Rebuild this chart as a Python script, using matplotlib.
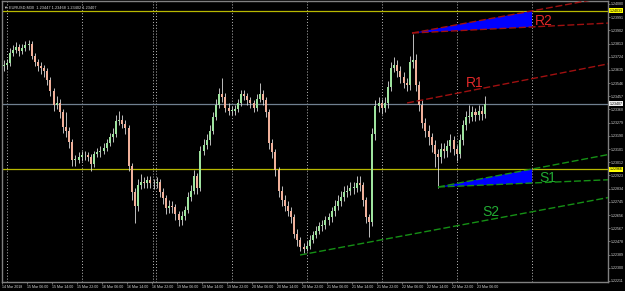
import numpy as np
import matplotlib.pyplot as plt
from matplotlib.transforms import blended_transform_factory

# EURUSD M30, 14 - 23 Mar 2018 (one candle per hour)
first_open = 1.2366
closes = [1.2367, 1.2368, 1.2375, 1.2377, 1.2379, 1.2376, 1.2378, 1.2380, 1.2381, 1.2373,
          1.2369, 1.2366, 1.2365, 1.2363, 1.2357, 1.2349, 1.2340, 1.2341, 1.2335, 1.2325,
          1.2322, 1.2315, 1.2303, 1.2303, 1.2305, 1.2306, 1.2306, 1.2305, 1.2300, 1.2307,
          1.2308, 1.2309, 1.2311, 1.2314, 1.2318, 1.2320, 1.2329, 1.2330, 1.2327, 1.2324,
          1.2299, 1.2281, 1.2272, 1.2286, 1.2288, 1.2287, 1.2289, 1.2287, 1.2287, 1.2288,
          1.2281, 1.2277, 1.2270, 1.2272, 1.2271, 1.2266, 1.2262, 1.2265, 1.2269, 1.2278,
          1.2282, 1.2292, 1.2284, 1.2309, 1.2313, 1.2316, 1.2322, 1.2332, 1.2340, 1.2347,
          1.2345, 1.2338, 1.2336, 1.2336, 1.2337, 1.2341, 1.2347, 1.2346, 1.2343, 1.2341,
          1.2338, 1.2344, 1.2347, 1.2343, 1.2335, 1.2314, 1.2308, 1.2296, 1.2282, 1.2276,
          1.2272, 1.2268, 1.2264, 1.2253, 1.2249, 1.2244, 1.2243, 1.2245, 1.2249, 1.2252,
          1.2255, 1.2258, 1.2259, 1.2262, 1.2264, 1.2268, 1.2272, 1.2275, 1.2278, 1.2281,
          1.2282, 1.2284, 1.2284, 1.2287, 1.2286, 1.2276, 1.2264, 1.2261, 1.2320, 1.2339,
          1.2341, 1.2338, 1.2341, 1.2352, 1.2365, 1.2367, 1.2363, 1.2359, 1.2355, 1.2353,
          1.2369, 1.2370, 1.2353, 1.2340, 1.2328, 1.2322, 1.2318, 1.2313, 1.2307, 1.2305,
          1.2310, 1.2309, 1.2312, 1.2316, 1.2310, 1.2307, 1.2316, 1.2326, 1.2332, 1.2332,
          1.2335, 1.2333, 1.2336, 1.2334, 1.23407]
highs = [1.2370, 1.2371, 1.2378, 1.2380, 1.2382, 1.2381, 1.2381, 1.2383, 1.2384, 1.2383,
         1.2375, 1.2371, 1.2369, 1.2367, 1.2365, 1.2359, 1.2351, 1.2346, 1.2344, 1.2337,
         1.2335, 1.2325, 1.2317, 1.2306, 1.2308, 1.2309, 1.2309, 1.2308, 1.2307, 1.2309,
         1.2311, 1.2312, 1.2314, 1.2317, 1.2321, 1.2324, 1.2333, 1.2336, 1.2333, 1.2330,
         1.2326, 1.2301, 1.2284, 1.2290, 1.2293, 1.2291, 1.2292, 1.2292, 1.2290, 1.2291,
         1.2290, 1.2284, 1.2279, 1.2276, 1.2275, 1.2273, 1.2268, 1.2268, 1.2272, 1.2281,
         1.2286, 1.2296, 1.2294, 1.2312, 1.2317, 1.2320, 1.2326, 1.2335, 1.2344, 1.2351,
         1.2358, 1.2348, 1.2341, 1.2339, 1.2340, 1.2344, 1.2350, 1.2350, 1.2348, 1.2345,
         1.2343, 1.2347, 1.2355, 1.2350, 1.2345, 1.2337, 1.2317, 1.2310, 1.2298, 1.2285,
         1.2279, 1.2275, 1.2271, 1.2266, 1.2256, 1.2251, 1.2247, 1.2248, 1.2252, 1.2255,
         1.2258, 1.2261, 1.2262, 1.2265, 1.2267, 1.2271, 1.2276, 1.2279, 1.2282, 1.2285,
         1.2286, 1.2288, 1.2288, 1.2292, 1.2292, 1.2288, 1.2278, 1.2266, 1.2324, 1.2343,
         1.2345, 1.2344, 1.2345, 1.2356, 1.2369, 1.2372, 1.2370, 1.2366, 1.2362, 1.2358,
         1.2373, 1.2388, 1.2374, 1.2356, 1.2343, 1.2331, 1.2326, 1.2321, 1.2316, 1.2310,
         1.2314, 1.2314, 1.2316, 1.2320, 1.2319, 1.2313, 1.2320, 1.2330, 1.2336, 1.2340,
         1.2339, 1.2338, 1.2340, 1.2339, 1.2346]
lows = [1.2363, 1.2364, 1.2366, 1.2373, 1.2375, 1.2373, 1.2374, 1.2376, 1.2377, 1.2371,
        1.2366, 1.2363, 1.2361, 1.2359, 1.2353, 1.2346, 1.2336, 1.2337, 1.2331, 1.2321,
        1.2318, 1.2311, 1.2299, 1.2299, 1.2301, 1.2302, 1.2303, 1.2302, 1.2295, 1.2298,
        1.2305, 1.2305, 1.2307, 1.2309, 1.2312, 1.2315, 1.2318, 1.2326, 1.2324, 1.2320,
        1.2295, 1.2276, 1.2260, 1.2268, 1.2283, 1.2284, 1.2284, 1.2284, 1.2283, 1.2284,
        1.2278, 1.2273, 1.2266, 1.2267, 1.2267, 1.2262, 1.2258, 1.2259, 1.2262, 1.2267,
        1.2275, 1.2280, 1.2280, 1.2282, 1.2306, 1.2310, 1.2313, 1.2320, 1.2330, 1.2338,
        1.2342, 1.2335, 1.2333, 1.2333, 1.2333, 1.2335, 1.2339, 1.2343, 1.2340, 1.2338,
        1.2335, 1.2336, 1.2342, 1.2340, 1.2332, 1.2310, 1.2304, 1.2292, 1.2278, 1.2272,
        1.2268, 1.2265, 1.2260, 1.2250, 1.2245, 1.2241, 1.2240, 1.2241, 1.2243, 1.2247,
        1.2250, 1.2253, 1.2255, 1.2256, 1.2259, 1.2261, 1.2265, 1.2269, 1.2272, 1.2275,
        1.2278, 1.2279, 1.2280, 1.2281, 1.2282, 1.2272, 1.2260, 1.2251, 1.2258, 1.2316,
        1.2335, 1.2334, 1.2335, 1.2338, 1.2349, 1.2362, 1.2359, 1.2355, 1.2351, 1.2349,
        1.2350, 1.2365, 1.2349, 1.2336, 1.2324, 1.2318, 1.2313, 1.2308, 1.2298, 1.2284,
        1.2301, 1.2304, 1.2305, 1.2308, 1.2306, 1.2302, 1.2304, 1.2313, 1.2323, 1.2328,
        1.2329, 1.2329, 1.2330, 1.2330, 1.2331]

time_labels = ['14 Mar 2018', '15 Mar 06:00', '15 Mar 14:00', '15 Mar 22:00', '16 Mar 06:00',
               '16 Mar 14:00', '16 Mar 22:00', '19 Mar 06:00', '19 Mar 14:00', '19 Mar 22:00',
               '20 Mar 06:00', '20 Mar 14:00', '20 Mar 22:00', '21 Mar 06:00', '21 Mar 14:00',
               '21 Mar 22:00', '22 Mar 06:00', '22 Mar 14:00', '22 Mar 22:00', '23 Mar 06:00']
price_ticks = [1.24080, 1.23991, 1.23902, 1.23813, 1.23724, 1.23635, 1.23546, 1.23457,
               1.23368, 1.23279, 1.23190, 1.23101, 1.23012, 1.22923, 1.22834, 1.22745,
               1.22656, 1.22567, 1.22478, 1.22389, 1.22300, 1.22211]
separators = [3.2, 51.2, 96.6, 98.6, 147.2, 195.2, 243.2, 291.2, 339.2]  # bar index

current_price = 1.23407
hlines_yellow = [1.24033, 1.22966]

# trend lines: (bar, price) anchors
r2_apex = (262.4, 1.23884)
r2_up = (339.2, 1.24033)
r2_low = (339.2, 1.23925)
r1_a = (259.2, 1.23412)
r1_b = (339.2, 1.23576)
s1_apex = (279.0, 1.22845)
s1_up = (339.2, 1.22966)
s1_low = (339.2, 1.22872)
s2_a = (190.7, 1.22386)
s2_b = (339.2, 1.22678)

FONT = ['Liberation Sans', 'DejaVu Sans']
XMAX = 387.8
fig = plt.figure(figsize=(6.25, 2.91), dpi=100, facecolor='black')
ax = fig.add_axes([2/625, 9/291, 606/625, 281/291])
ax.set_facecolor('black')
ax.set_xlim(0, XMAX)
ax.set_ylim(1.22204, 1.24100)

for s in separators:
    ax.axvline(s, color='#bdbdbd', lw=0.7, linestyle=(0, (1, 2)), zorder=1)

for p in hlines_yellow:
    ax.axhline(p, color='#b8b800', lw=0.9, zorder=2)
ax.axhline(current_price, color='#708090', lw=0.9, zorder=2)

n = len(closes)
x = np.arange(n) * 2 + 1
opens = np.array([first_open] + closes[:-1])
c = np.array(closes)
ax.vlines(x, lows, highs, color='#dcdcdc', lw=0.6, zorder=3)
bottom = np.minimum(opens, c)
height = np.maximum(np.abs(c - opens), 0.00003)
cols = ['#9ee39e' if cc >= oo else '#f0b09a' for oo, cc in zip(opens, c)]
ax.bar(x, height, bottom=bottom, width=1.3, color=cols, linewidth=0, zorder=4)


def ray(a, b, color):
    slope = (b[1] - a[1]) / (b[0] - a[0])
    ax.plot([a[0], XMAX], [a[1], a[1] + slope * (XMAX - a[0])], color=color,
            lw=1, linestyle=(0, (5, 2)), zorder=6)


ax.fill([r2_apex[0], r2_up[0], r2_low[0]], [r2_apex[1], r2_up[1], r2_low[1]],
        color='#0000ff', lw=0, zorder=5)
ax.fill([s1_apex[0], s1_up[0], s1_low[0]], [s1_apex[1], s1_up[1], s1_low[1]],
        color='#0000ff', lw=0, zorder=5)
red = '#a01010'
green = '#159015'
ray(r2_apex, r2_up, red)
ray(r2_apex, r2_low, red)
ray(r1_a, r1_b, red)
ray(s1_apex, s1_up, green)
ray(s1_apex, s1_low, green)
ray(s2_a, s2_b, green)

lab = dict(fontsize=10, ha='center', va='center', family=FONT)
ax.text(347, 1.23965, 'R2', color='#e02828', **lab)
ax.text(302.7, 1.23547, 'R1', color='#e02828', **lab)
ax.text(349.4, 1.22909, 'S1', color='#22aa33', **lab)
ax.text(313, 1.22679, 'S2', color='#22aa33', **lab)

# axes frame and scales
for sp in ax.spines.values():
    sp.set_color('#808080')
    sp.set_linewidth(1)
ax.yaxis.tick_right()
ax.set_yticks(price_ticks)
ax.set_yticklabels(['%.5f' % p for p in price_ticks])
ax.set_xticks(np.arange(len(time_labels)) * 16)
ax.set_xticklabels(time_labels)
ax.tick_params(axis='both', colors='#808080', labelcolor='#d8d8d8', labelsize=2.6,
               length=1.5, width=0.6, pad=0.6)
for t in ax.get_xticklabels():
    t.set_ha('left')
    t.set_family(FONT)
for t in ax.get_yticklabels():
    t.set_family(FONT)

tr = blended_transform_factory(ax.transAxes, ax.transData)
for p in hlines_yellow:
    ax.text(1.003, p, '%.5f' % p, transform=tr, fontsize=2.6, va='center', ha='left',
            color='black', family=FONT,
            bbox=dict(facecolor='#ffff00', edgecolor='none', pad=0.4), clip_on=False, zorder=10)
ax.text(1.003, current_price, '%.5f' % current_price, transform=tr, fontsize=2.6, va='center',
        ha='left', color='black', family=FONT,
        bbox=dict(facecolor='#f0f0f0', edgecolor='none', pad=0.4), clip_on=False, zorder=10)

ax.text(0.003, 0.985, '\u25bc EURUSD,M30  1.23447 1.23468 1.23402 1.23407', transform=ax.transAxes,
        fontsize=2.8, color='#d8d8d8', va='top', ha='left', family=FONT)

fig.savefig('out.png', dpi=100, facecolor='black')
